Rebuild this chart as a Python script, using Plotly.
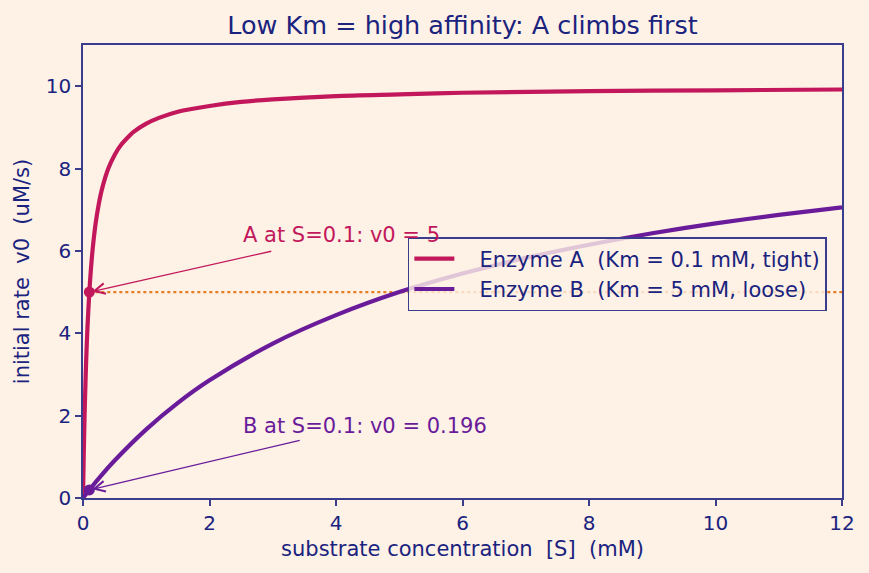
import plotly.graph_objects as go

# ---- data ----
s_a = [0, 0.01, 0.02, 0.03, 0.05, 0.07, 0.1, 0.12, 0.15, 0.2, 0.25, 0.3, 0.4, 0.5, 0.6,
       0.75, 0.8, 1.0, 1.2, 1.5, 2.0, 2.5, 3.0, 4.0, 5.0, 6.0, 8.0, 10.0, 12.0]
v_a = [0, 0.91, 1.67, 2.31, 3.33, 4.12, 5.0, 5.45, 6.0, 6.67, 7.14, 7.5, 8.0, 8.33, 8.57,
       8.82, 8.89, 9.09, 9.23, 9.38, 9.52, 9.62, 9.68, 9.76, 9.80, 9.84, 9.88, 9.90, 9.92]

s_b = [0, 0.1, 0.25, 0.5, 1.0, 1.5, 2.0, 3.0, 4.0, 5.0, 6.0, 7.0, 8.0, 9.0, 10.0, 11.0, 12.0]
v_b = [0, 0.196, 0.476, 0.909, 1.667, 2.31, 2.857, 3.75, 4.44, 5.0, 5.45, 5.83, 6.15,
       6.43, 6.67, 6.875, 7.06]

point_s = 0.1
point_va = 5.0
point_vb = 0.196
half_vmax = 5.0

name_a = "Enzyme A  (Km = 0.1 mM, tight)"
name_b = "Enzyme B  (Km = 5 mM, loose)"
label_a = "A at S=0.1: v0 = 5"
label_b = "B at S=0.1: v0 = 0.196"

# ---- style ----
BG = "#FEF1E6"
INK = "#1A237E"
AXIS = "#3A3D8C"
COL_A = "#C2185B"
COL_B = "#6A1B9A"
COL_DOT = "#E67E22"
FONT = "DejaVu Sans"
PAD = "\u00a0\u00a0\u00a0"

fig = go.Figure()

fig.add_trace(go.Scatter(x=s_a, y=v_a, mode="lines", name=PAD + name_a,
                         line=dict(color=COL_A, width=4.2, shape="spline", smoothing=0.8)))
fig.add_trace(go.Scatter(x=s_b, y=v_b, mode="lines", name=PAD + name_b,
                         line=dict(color=COL_B, width=4.2, shape="spline", smoothing=0.8)))

# dotted half-Vmax guide
fig.add_shape(type="line", x0=point_s, x1=12, y0=half_vmax, y1=half_vmax,
              xref="x", yref="y", line=dict(color=COL_DOT, width=2.2, dash="dot"), layer="below")

fig.add_trace(go.Scatter(x=[point_s], y=[point_va], mode="markers", showlegend=False,
                         marker=dict(color=COL_A, size=11)))
fig.add_trace(go.Scatter(x=[point_s], y=[point_vb], mode="markers", showlegend=False,
                         marker=dict(color=COL_B, size=11)))

# annotations: arrows
fig.add_annotation(x=point_s, y=point_va, ax=3.0, ay=6.0, axref="x", ayref="y",
                   xref="x", yref="y", text="", showarrow=True, arrowhead=5,
                   arrowsize=1.6, arrowwidth=1.3, arrowcolor=COL_A, standoff=3)
fig.add_annotation(x=point_s, y=point_vb, ax=3.45, ay=1.41, axref="x", ayref="y",
                   xref="x", yref="y", text="", showarrow=True, arrowhead=5,
                   arrowsize=1.6, arrowwidth=1.3, arrowcolor=COL_B, standoff=3)
# annotation texts
fig.add_annotation(x=2.5, y=6.05, xref="x", yref="y", text=label_a, showarrow=False,
                   xanchor="left", yanchor="bottom", font=dict(color=COL_A, size=21, family=FONT))
fig.add_annotation(x=2.5, y=1.41, xref="x", yref="y", text=label_b, showarrow=False,
                   xanchor="left", yanchor="bottom", font=dict(color=COL_B, size=21, family=FONT))

axis_common = dict(showgrid=False, zeroline=False, showline=True, linecolor=AXIS, linewidth=1.5,
                   mirror=True, ticks="outside", ticklen=6, tickwidth=1.5, tickcolor=AXIS,
                   tickfont=dict(color=INK, size=20, family=FONT))

fig.update_layout(
    width=869, height=573,
    paper_bgcolor=BG, plot_bgcolor=BG,
    margin=dict(l=83, r=27, t=45, b=75),
    font=dict(family=FONT, color=INK),
    title=dict(text="Low Km = high affinity: A climbs first", x=0.5, xref="paper",
               xanchor="center", y=0.956, yanchor="middle",
               font=dict(size=25.5, color=INK, family=FONT)),
    xaxis=dict(range=[0, 12], tickvals=[0, 2, 4, 6, 8, 10, 12],
               title=dict(text="substrate concentration  [S]  (mM)", standoff=8,
                          font=dict(size=21, color=INK, family=FONT)), **axis_common),
    yaxis=dict(range=[0, 11], tickvals=[0, 2, 4, 6, 8, 10],
               title=dict(text="initial rate  v0  (uM/s)", standoff=10,
                          font=dict(size=21, color=INK, family=FONT)), **axis_common),
    legend=dict(x=0.428, y=0.576, xanchor="left", yanchor="top",
                bgcolor="rgba(254,241,230,0.8)", bordercolor=AXIS, borderwidth=1.5,
                font=dict(size=21, color=INK, family=FONT), itemwidth=40,
                tracegroupgap=0),
    showlegend=True,
)

fig.write_html("out.html")
